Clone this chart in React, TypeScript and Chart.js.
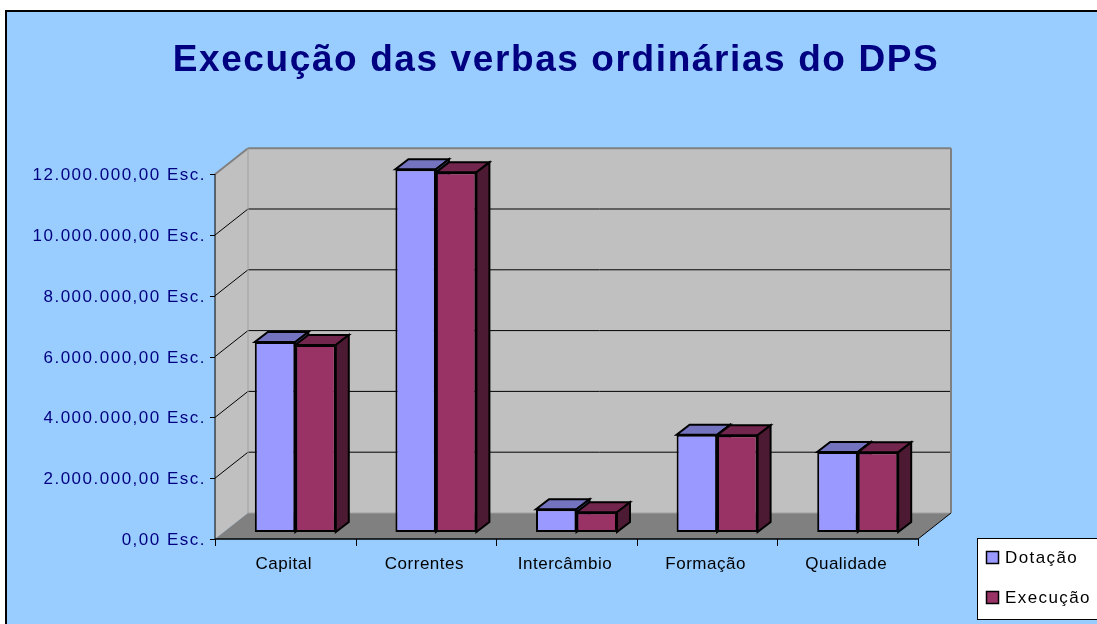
import { useEffect, useRef } from "react";
import { Chart, registerables } from "chart.js";
Chart.register(...registerables);

const W = 1097;
const H = 624;

const chartTitle = "Execução das verbas ordinárias do DPS";
const categories = ["Capital", "Correntes", "Intercâmbio", "Formação", "Qualidade"];
const seriesNames = ["Dotação", "Execução"];
const dotacao = [6250000, 11930000, 750000, 3200000, 2630000];
const execucao = [6150000, 11830000, 650000, 3180000, 2620000];
const yTicks = [0, 2000000, 4000000, 6000000, 8000000, 10000000, 12000000];
const yMax = 12000000;

const frontColors = ["#9999FF", "#993366"];
const topColors = ["#7373C0", "#73264D"];
const sideColors = ["#4D4D80", "#4D1A33"];

const FONT = '"Liberation Sans", Arial, sans-serif';

function fmt(v: number): string {
  const s = Math.round(v).toString().replace(/\B(?=(\d{3})+(?!\d))/g, ".");
  return s + ",00 Esc.";
}

const F = { dx: -10, dy: 7 };
const B = { dx: 23, dy: -19 };
const D = { dx: 13, dy: -10 };

function poly(ctx: CanvasRenderingContext2D, pts: number[][], fill?: string, stroke?: string, lw = 1) {
  ctx.beginPath();
  ctx.moveTo(pts[0][0], pts[0][1]);
  for (let i = 1; i < pts.length; i++) ctx.lineTo(pts[i][0], pts[i][1]);
  ctx.closePath();
  if (fill) {
    ctx.fillStyle = fill;
    ctx.fill();
  }
  if (stroke) {
    ctx.strokeStyle = stroke;
    ctx.lineWidth = lw;
    ctx.stroke();
  }
}

function line(ctx: CanvasRenderingContext2D, x1: number, y1: number, x2: number, y2: number, color: string, lw = 1) {
  ctx.beginPath();
  ctx.moveTo(x1, y1);
  ctx.lineTo(x2, y2);
  ctx.strokeStyle = color;
  ctx.lineWidth = lw;
  ctx.stroke();
}

const threeD = {
  id: "threeD",
  beforeDraw(chart: any) {
    const ctx: CanvasRenderingContext2D = chart.ctx;
    const xs = chart.scales.x;
    const ys = chart.scales.y;
    const ca = chart.chartArea;
    ctx.save();
    ctx.fillStyle = "#FFFFFF";
    ctx.fillRect(0, 0, W, H);
    ctx.fillStyle = "#99CCFF";
    ctx.fillRect(6, 11, W - 6, H - 11);
    ctx.beginPath();
    ctx.moveTo(6, H);
    ctx.lineTo(6, 11);
    ctx.lineTo(W, 11);
    ctx.strokeStyle = "#000000";
    ctx.lineWidth = 2;
    ctx.stroke();

    // title
    ctx.fillStyle = "#000080";
    ctx.font = "bold 37px " + FONT;
    (ctx as any).letterSpacing = "1.6px";
    ctx.textAlign = "center";
    ctx.textBaseline = "middle";
    ctx.fillText(chartTitle, 556, 61);

    const L = ca.left;
    const R = ca.right;
    const y0 = ys.getPixelForValue(0);
    const yT = ys.getPixelForValue(yMax);

    // side wall
    poly(ctx, [[L + F.dx, y0 + F.dy], [L + F.dx, yT + F.dy], [L + B.dx, yT + B.dy], [L + B.dx, y0 + B.dy]], "#C0C0C0");
    // back wall
    poly(ctx, [[L + B.dx, yT + B.dy], [R + B.dx, yT + B.dy], [R + B.dx, y0 + B.dy], [L + B.dx, y0 + B.dy]], "#C0C0C0");
    // floor
    poly(ctx, [[L + F.dx, y0 + F.dy], [R + F.dx, y0 + F.dy], [R + B.dx, y0 + B.dy], [L + B.dx, y0 + B.dy]], "#808080");

    // gridlines
    for (const v of yTicks) {
      if (v === 0 || v === yMax) continue;
      const y = ys.getPixelForValue(v);
      line(ctx, L + F.dx, y + F.dy, L + B.dx, y + B.dy, "#000000", 1);
      line(ctx, L + B.dx, y + B.dy, R + B.dx, y + B.dy, "#000000", 1);
    }

    // frame edges (gray)
    ctx.lineJoin = "miter";
    line(ctx, L + F.dx, yT + F.dy, L + B.dx, yT + B.dy, "#808080", 2);
    line(ctx, L + B.dx, yT + B.dy, R + B.dx, yT + B.dy, "#808080", 2);
    line(ctx, R + B.dx, yT + B.dy, R + B.dx, y0 + B.dy, "#808080", 2);
    line(ctx, L + B.dx, yT + B.dy, L + B.dx, y0 + B.dy, "#A0A0A0", 1);
    line(ctx, L + B.dx, y0 + B.dy, R + B.dx, y0 + B.dy, "#A0A0A0", 1);

    // floor right edge
    line(ctx, R + F.dx, y0 + F.dy, R + B.dx, y0 + B.dy, "#000000", 1);

    // y axis front
    line(ctx, L + F.dx, yT + F.dy, L + F.dx, y0 + F.dy, "#000000", 1);
    // x axis front
    line(ctx, L + F.dx, y0 + F.dy, R + F.dx, y0 + F.dy, "#000000", 1.5);

    // y ticks + labels
    ctx.font = "17px " + FONT;
    (ctx as any).letterSpacing = "1.5px";
    ctx.fillStyle = "#000080";
    ctx.textAlign = "right";
    ctx.textBaseline = "middle";
    for (const v of yTicks) {
      const y = Math.round(ys.getPixelForValue(v) + F.dy) + 0.5;
      line(ctx, L + F.dx - 5, y, L + F.dx, y, "#000000", 1);
      ctx.fillText(fmt(v), L + F.dx - 9, y + 1);
    }

    // x ticks
    const n = categories.length;
    const cw = (R - L) / n;
    for (let i = 0; i <= n; i++) {
      const x = Math.round(L + F.dx + i * cw) + 0.5;
      line(ctx, x, y0 + F.dy, x, y0 + F.dy + 7, "#000000", 1);
    }
    // x labels
    (ctx as any).letterSpacing = "0.5px";
    ctx.fillStyle = "#000000";
    ctx.textAlign = "center";
    for (let i = 0; i < n; i++) {
      const x = xs.getPixelForValue(i) + F.dx - 1.5;
      ctx.fillText(categories[i], x, 564);
    }

    // legend
    (ctx as any).letterSpacing = "1.4px";
    ctx.fillStyle = "#FFFFFF";
    ctx.fillRect(977.5, 538.5, 130, 81);
    ctx.strokeStyle = "#000000";
    ctx.lineWidth = 1;
    ctx.strokeRect(977.5, 538.5, 130, 81);
    const ly = [558, 598];
    ctx.textAlign = "left";
    for (let i = 0; i < seriesNames.length; i++) {
      ctx.fillStyle = frontColors[i];
      ctx.fillRect(986.5, ly[i] - 6.5, 12, 12);
      ctx.strokeStyle = "#000000";
      ctx.lineWidth = 1.5;
      ctx.strokeRect(986.5, ly[i] - 6.5, 12, 12);
      ctx.fillStyle = "#000000";
      ctx.fillText(seriesNames[i], 1005, ly[i]);
    }
    (ctx as any).letterSpacing = "0px";
    ctx.restore();
  },
  beforeDatasetsDraw(chart: any) {
    const ctx: CanvasRenderingContext2D = chart.ctx;
    ctx.save();
    ctx.lineJoin = "miter";
    for (let c = 0; c < categories.length; c++) {
      for (let d = 0; d < chart.data.datasets.length; d++) {
        const el: any = chart.getDatasetMeta(d).data[c];
        const x0 = el.x - el.width / 2;
        const x1 = el.x + el.width / 2;
        const top = el.y;
        const bot = el.base;
        poly(ctx, [[x0, top], [x1, top], [x1 + D.dx, top + D.dy], [x0 + D.dx, top + D.dy]], topColors[d], "#000000", 2);
        poly(ctx, [[x1, top], [x1 + D.dx, top + D.dy], [x1 + D.dx, bot + D.dy], [x1, bot]], sideColors[d], "#000000", 2);
      }
    }
    ctx.restore();
  },
};

export default function App() {
  const ref = useRef<HTMLCanvasElement | null>(null);
  useEffect(() => {
    if (!ref.current) return;
    const chart = new Chart(ref.current, {
      type: "bar",
      data: {
        labels: categories,
        datasets: [
          {
            label: seriesNames[0],
            data: dotacao,
            backgroundColor: frontColors[0],
            borderColor: "#000000",
            borderWidth: 2,
            borderSkipped: false,
            barPercentage: 1,
            categoryPercentage: 0.576,
          },
          {
            label: seriesNames[1],
            data: execucao,
            backgroundColor: frontColors[1],
            borderColor: "#000000",
            borderWidth: 2,
            borderSkipped: false,
            barPercentage: 1,
            categoryPercentage: 0.576,
          },
        ],
      },
      options: {
        responsive: false,
        animation: false,
        devicePixelRatio: 1,
        layout: { padding: { left: 225, right: 169, top: 167.2, bottom: 92 } },
        scales: {
          x: { display: false },
          y: { display: false, min: 0, max: yMax },
        },
        plugins: {
          legend: { display: false },
          tooltip: { enabled: false },
          title: { display: false },
        },
      },
      plugins: [threeD],
    });
    return () => chart.destroy();
  }, []);
  return (
    <div style={{ position: "fixed", left: 0, top: 0, width: W, height: H }}>
      <canvas ref={ref} width={W} height={H} style={{ display: "block" }} />
    </div>
  );
}
